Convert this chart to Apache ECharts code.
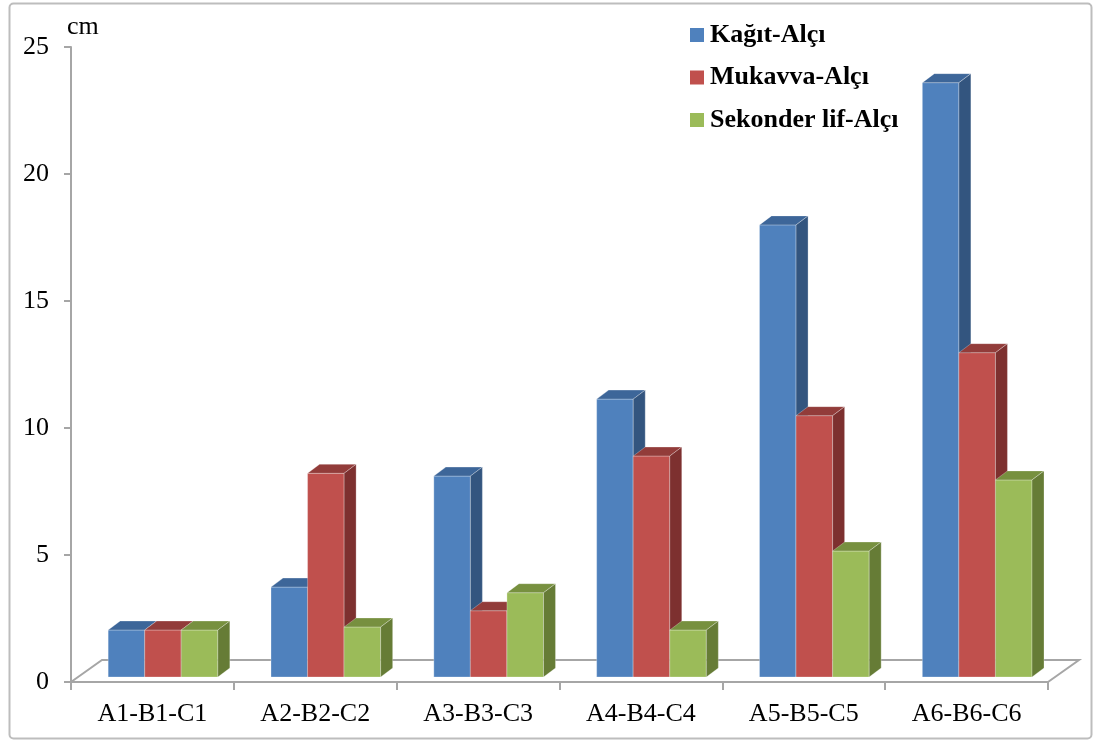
<!DOCTYPE html>
<html>
<head>
<meta charset="utf-8">
<script src="https://cdn.jsdelivr.net/npm/echarts@6/dist/echarts.min.js"></script>
<style>
  html, body { margin: 0; padding: 0; background: #ffffff; }
  #chart { width: 1096px; height: 740px; }
</style>
</head>
<body>
<div id="chart"></div>
<script>
// Categories and measured values (cm)
const categories = ['A1-B1-C1', 'A2-B2-C2', 'A3-B3-C3', 'A4-B4-C4', 'A5-B5-C5', 'A6-B6-C6'];
const seriesNames = ['Kağıt-Alçı', 'Mukavva-Alçı', 'Sekonder lif-Alçı'];
const kagitAlci = [1.85, 3.54, 7.91, 10.94, 17.8, 23.4];
const mukavvaAlci = [1.85, 8.02, 2.61, 8.70, 10.29, 12.77];
const sekonderLifAlci = [1.85, 1.97, 3.32, 1.85, 4.96, 7.76];
const yMax = 25;
const yStep = 5;

// Face colours for the 3D columns: front, top, side
const palettes = [
  { front: '#4F81BD', top: '#3D6699', side: '#33557F' },
  { front: '#C0504D', top: '#923C3A', side: '#7D302F' },
  { front: '#9BBB59', top: '#77903F', side: '#667C36' }
];

const DEPTH_X = 12, DEPTH_Y = 9;      // column depth projection
const FLOOR_X = 31, FLOOR_Y = 22;     // floor depth projection
const LIFT = 5;                       // columns stand slightly behind the front edge

function columnRenderer(k) {
  const pal = palettes[k];
  return function (params, api) {
    const idx = api.value(0);
    const val = api.value(1);
    const base = api.coord([idx, 0]);
    const tip = api.coord([idx, val]);
    const band = api.size([1, 0])[0];
    const bw = band * 0.2245;
    const shift = band * 0.065;
    const left = base[0] + shift - 1.5 * bw + k * bw;
    const right = left + bw;
    const bottom = base[1] - LIFT;
    const top = tip[1] - LIFT;
    const edge = { stroke: 'rgba(255,255,255,0.28)', lineWidth: 1 };
    return {
      type: 'group',
      children: [
        { type: 'rect', shape: { x: left, y: top, width: bw, height: bottom - top },
          style: Object.assign({ fill: pal.front }, edge) },
        { type: 'polygon', shape: { points: [[left, top], [left + DEPTH_X, top - DEPTH_Y], [right + DEPTH_X, top - DEPTH_Y], [right, top]] },
          style: Object.assign({ fill: pal.top }, edge) },
        { type: 'polygon', shape: { points: [[right, top], [right + DEPTH_X, top - DEPTH_Y], [right + DEPTH_X, bottom - DEPTH_Y], [right, bottom]] },
          style: Object.assign({ fill: pal.side }, edge) }
      ]
    };
  };
}

function floorRenderer(params, api) {
  const cs = params.coordSys;
  const y0 = cs.y + cs.height;
  const x0 = cs.x, x1 = cs.x + cs.width;
  return {
    type: 'polyline',
    shape: { points: [[x0, y0], [x0 + FLOOR_X, y0 - FLOOR_Y], [x1 + FLOOR_X, y0 - FLOOR_Y], [x1, y0]] },
    style: { stroke: '#A6A6A6', lineWidth: 2, fill: null }
  };
}

const valueSets = [kagitAlci, mukavvaAlci, sekonderLifAlci];
const serif = '"Liberation Serif", "Times New Roman", serif';

const chart = echarts.init(document.getElementById('chart'), null, { renderer: 'canvas' });
chart.setOption({
  backgroundColor: '#ffffff',
  animation: false,
  grid: { left: 71, right: 48, top: 47, bottom: 58 },
  legend: {
    data: seriesNames,
    orient: 'vertical',
    left: 690,
    top: 21,
    padding: 0,
    icon: 'rect',
    itemWidth: 14,
    itemHeight: 14,
    itemGap: 14.5,
    textStyle: { fontFamily: serif, fontWeight: 'bold', fontSize: 26, color: '#000', lineHeight: 28, padding: [0, 0, 0, 1] }
  },
  xAxis: {
    type: 'category',
    data: categories,
    axisLine: { show: true, lineStyle: { color: '#A6A6A6', width: 2 } },
    axisTick: { show: true, length: 8, lineStyle: { color: '#A6A6A6', width: 2 } },
    axisLabel: { fontFamily: serif, fontSize: 26, color: '#000', margin: 19 },
    splitLine: { show: false }
  },
  yAxis: {
    type: 'value',
    min: 0,
    max: yMax,
    interval: yStep,
    axisLine: { show: true, lineStyle: { color: '#A6A6A6', width: 2 } },
    axisTick: { show: true, length: 7, lineStyle: { color: '#A6A6A6', width: 2 } },
    axisLabel: { fontFamily: serif, fontSize: 26, color: '#000', margin: 22 },
    splitLine: { show: false }
  },
  graphic: [
    { type: 'rect', left: 7, top: 1, shape: { width: 1082, height: 735, r: 4 },
      style: { fill: null, stroke: '#BDBDBD', lineWidth: 2 }, z: -1 },
    { type: 'text', left: 67, top: 14,
      style: { text: 'cm', font: '26px ' + serif, fill: '#000' } }
  ],
  series: [
    { type: 'custom', name: 'floor', renderItem: floorRenderer, data: [[0, 0]], z: 1, silent: true }
  ].concat(valueSets.map(function (vals, k) {
    return {
      type: 'custom',
      name: seriesNames[k],
      renderItem: columnRenderer(k),
      itemStyle: { color: palettes[k].front },
      encode: { x: 0, y: 1 },
      clip: false,
      z: 2 + k,
      data: vals.map(function (v, i) { return [i, v]; })
    };
  }))
});
</script>
</body>
</html>
